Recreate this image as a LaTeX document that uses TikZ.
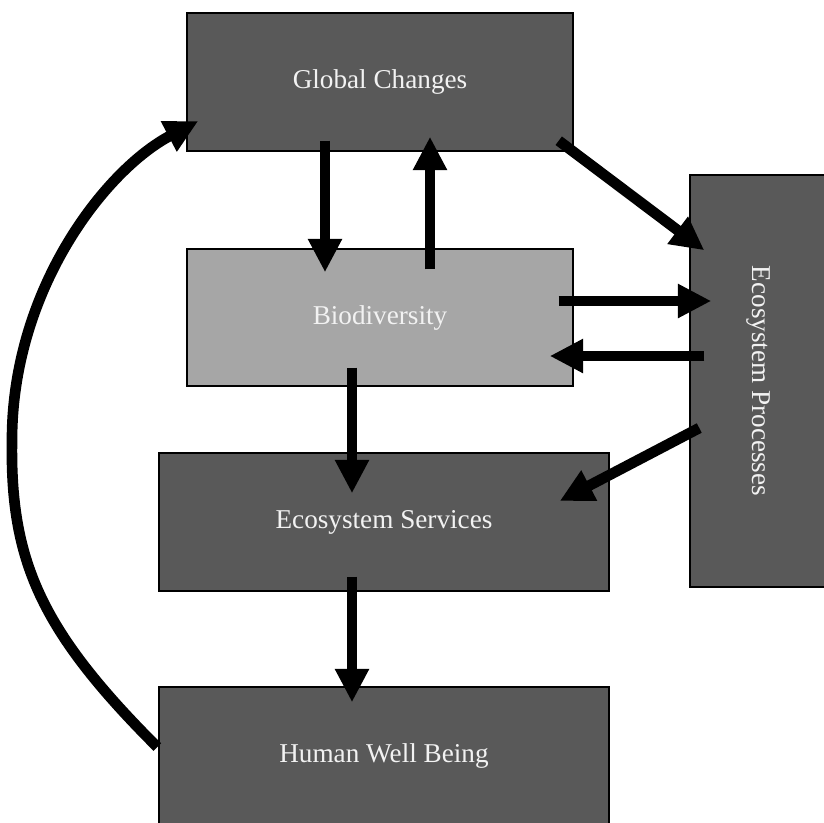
\documentclass[tikz,border=0pt]{standalone}
\usepackage{fontspec}
\newfontfamily\boxfont{Liberation Serif}
\usepackage{color}
\definecolor{mydarkgray}{RGB}{89,89,89}
\definecolor{mylightgray}{RGB}{166,166,166}
\definecolor{mywhite}{RGB}{242,242,242}
\usepackage{tikz}
\usetikzlibrary{calc,arrows,arrows.meta,positioning}
\tikzstyle{box}=[draw,line width=1.1pt,fill=mydarkgray,text=mywhite,inner sep=0pt,font=\boxfont\fontsize{20.4}{24}\selectfont]
\tikzstyle{flow}=[line width=8pt,-{Triangle[length=25pt,width=24pt]}]

\begin{document}
\begin{tikzpicture}[x=0.75pt,y=-0.75pt]
\useasboundingbox (0,0) rectangle (824,822);
\node [box,minimum width=289.5pt,minimum height=103.5pt] (glob) at (380,82) {Global Changes};
\node [box,fill=mylightgray,minimum width=289.5pt,minimum height=102.75pt] (bio) at (380,317.5) {Biodiversity};
\node [box,minimum width=337.5pt,minimum height=103.5pt] (serv) at (384,522) {Ecosystem Services};
\node [box,minimum width=337.5pt,minimum height=103.5pt] (hwb) at (384,756) {Human Well Being};
\node [box,minimum width=102pt,minimum height=309pt] (proc) at (758,381) {\rotatebox{-90}{Ecosystem Processes}};

\draw [flow] ([shift={(-55,-11)}]glob.south) -- ([shift={(-55,24)}]bio.north);
\draw [flow] ([shift={(50,21)}]bio.north) -- ([shift={(50,-15)}]glob.south);
\draw [flow] ([shift={(-15,-11)}]glob.south east) -- ([shift={(15,76)}]proc.north west);
\draw [flow] ([shift={(-15,-16.5)}]bio.east) -- ([shift={(22,-80)}]proc.west);
\draw [flow] ([shift={(15,-25)}]proc.west) -- ([shift={(-24,38.5)}]bio.east);
\draw [flow] ([shift={(10,47)}]proc.west) -- ([shift={(-50,-21)}]serv.east);
\draw [flow] ([shift={(-28,-19)}]bio.south) -- ([shift={(-32,41)}]serv.north);
\draw [flow] ([shift={(-32,-15)}]serv.south) -- ([shift={(-32,16)}]hwb.north);
% feedback loop
\draw [flow] ([shift={(-1,-9)}]hwb.west) .. controls (40,630) and (10,560) .. (12,440)
  .. controls (12,290) and (105,170) .. ([shift={(12,39)}]glob.west);
\end{tikzpicture}
\end{document}
